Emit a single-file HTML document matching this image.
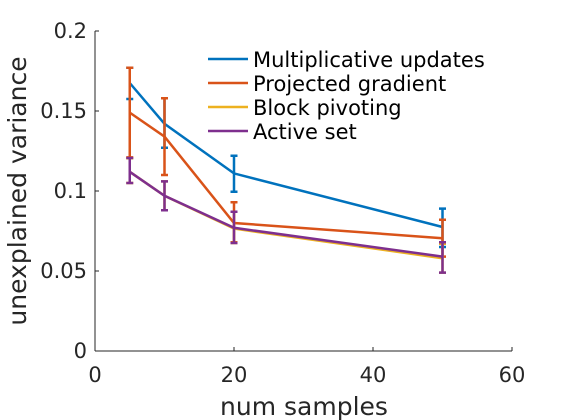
<!DOCTYPE html>
<html><head><meta charset="utf-8"><style>
body{margin:0;background:#fff}
svg{display:block;font-family:"DejaVu Sans","Liberation Sans",sans-serif}
</style></head><body>
<svg id="chart" width="566" height="420" viewBox="0 0 566 420">
<g id="axes"></g>
<g id="series"></g>
<g id="legend"></g>
</svg>
<script>
const xs = [5, 10, 20, 50];
const names = ["Multiplicative updates","Projected gradient","Block pivoting","Active set"];
const colors = ["#0072BD","#D95319","#EDB120","#7E2F8E"];
const mult = [0.1675, 0.142, 0.111, 0.0775];
const multLo = [0.1575, 0.127, 0.0995, 0.065];
const multHi = [0.177, 0.158, 0.122, 0.089];
const proj = [0.149, 0.134, 0.080, 0.0705];
const projLo = [0.121, 0.110, 0.068, 0.059];
const projHi = [0.177, 0.158, 0.093, 0.082];
const block = [0.112, 0.097, 0.0765, 0.058];
const blockLo = [0.105, 0.088, 0.0675, 0.049];
const blockHi = [0.1205, 0.106, 0.087, 0.067];
const active = [0.112, 0.097, 0.077, 0.059];
const activeLo = [0.105, 0.088, 0.0675, 0.049];
const activeHi = [0.1206, 0.106, 0.087, 0.068];
const xTicks = [0, 20, 40, 60];
const yTicks = [0, 0.05, 0.1, 0.15, 0.2];
const yTickLabels = ["0","0.05","0.1","0.15","0.2"];

const X = v => 95 + v * (512 - 95) / 60;
const Y = v => 351 - v * 1600;
const NS = "http://www.w3.org/2000/svg";
function mk(tag, parent, attrs){const e=document.createElementNS(NS,tag);for(const k in attrs)e.setAttribute(k,attrs[k]);parent.appendChild(e);return e;}
const axes = document.getElementById('axes');
let el = mk('line', axes, {x1:95,y1:351,x2:512,y2:351,stroke:'#262626','stroke-width':1});


el = mk('line', axes, {x1:95,y1:31,x2:95,y2:351,stroke:'#262626','stroke-width':1});


xTicks.forEach(t=>{
  const tk = mk('line', axes, {x1:X(t),y1:351,x2:X(t),y2:347,stroke:'#262626'});
  
  
  const tl = mk('text', axes, {x:X(t),y:382,'text-anchor':'middle','font-size':21,fill:'#262626'});
  tl.textContent = t;
  
  
});
yTicks.forEach((t,i)=>{
  const tk = mk('line', axes, {x1:95,y1:Y(t),x2:99,y2:Y(t),stroke:'#262626'});
  
  
  const tl = mk('text', axes, {x:87,y:Y(t)+7,'text-anchor':'end','font-size':21,fill:'#262626'});
  tl.textContent = yTickLabels[i];
  
  
});
el = mk('text', axes, {x:304,y:415,'text-anchor':'middle','font-size':25,fill:'#262626'});
el.textContent='num samples';


el = mk('text', axes, {x:0,y:0,'text-anchor':'middle','font-size':25,fill:'#262626',transform:'translate(26,191) rotate(-90)'});
el.textContent='unexplained variance';



const seriesData = [[mult,multLo,multHi],[proj,projLo,projHi],[block,blockLo,blockHi],[active,activeLo,activeHi]];
const sg = document.getElementById('series');
seriesData.forEach((s,si)=>{
  const g = mk('g', sg, {});
  
  
  const pts = xs.map((x,i)=>X(x)+','+Y(s[0][i])).join(' ');
  const pl = mk('polyline', g, {points:pts,fill:'none',stroke:colors[si],'stroke-width':2.5});
  
  
  xs.forEach((x,i)=>{
    const cx = X(x), lo = Y(s[1][i]), hi = Y(s[2][i]);
    const eb = mk('path', g, {d:`M${cx},${lo}V${hi}M${cx-3.5},${lo}H${cx+3.5}M${cx-3.5},${hi}H${cx+3.5}`,stroke:colors[si],'stroke-width':2.5,fill:'none'});
    
    
  });
});

const lg = document.getElementById('legend');
names.forEach((n,i)=>{
  const y = 59 + i*24;
  const ln = mk('line', lg, {x1:208,y1:y,x2:248,y2:y,stroke:colors[i],'stroke-width':2.5});
  
  
  const t = mk('text', lg, {x:253,y:y+8,'font-size':21,fill:'#000'});
  t.textContent = n;
  
  
});
</script>
</body></html>
